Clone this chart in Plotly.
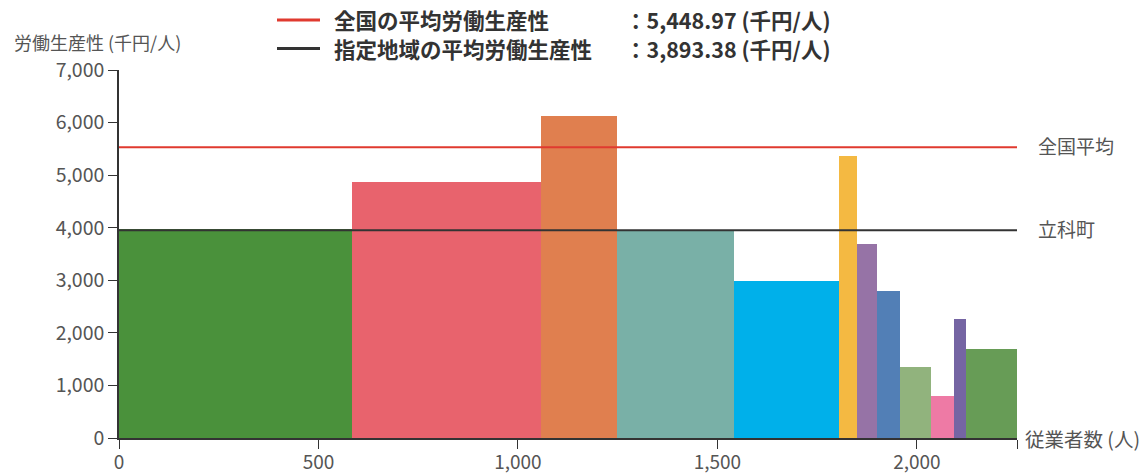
import plotly.graph_objects as go

# data
widths = [584, 474, 190, 293, 264, 45, 50, 57, 78, 58, 30, 128]   # 従業者数 (人)
values = [3980, 4875, 6130, 3940, 2990, 5370, 3696, 2800, 1356, 805, 2269, 1699]  # 労働生産性 (千円/人)
colors = ["#4a913b", "#e8636d", "#e07f4f", "#79b0a7", "#00b0ea", "#f4b942",
          "#9673a6", "#527fb6", "#91b37d", "#ee7aa5", "#7565a3", "#679c56"]
national_avg = 5530
region_avg = 3950
national_label = "全国平均"
region_label = "立科町"
legend_rows = [("全国の平均労働生産性", "：5,448.97 (千円/人)", "#e03a2f"),
               ("指定地域の平均労働生産性", "：3,893.38 (千円/人)", "#333333")]
xticks = [0, 500, 1000, 1500, 2000]
yticks = [0, 1000, 2000, 3000, 4000, 5000, 6000, 7000]

lefts = []
acc = 0
for w in widths:
    lefts.append(acc)
    acc += w
total = acc
centers = [l + w / 2 for l, w in zip(lefts, widths)]

FONT = "Noto Sans CJK JP"
GREY = "#555555"
PW = 898
PH = 368

fig = go.Figure()
fig.add_trace(go.Bar(x=centers, y=values, width=widths, marker=dict(color=colors, line=dict(width=0)),
                     showlegend=False, hoverinfo="y"))
fig.add_trace(go.Scatter(x=[0, total], y=[national_avg, national_avg], mode="lines",
                         line=dict(color="#e03a2f", width=2), showlegend=False))
fig.add_trace(go.Scatter(x=[0, total], y=[region_avg, region_avg], mode="lines",
                         line=dict(color="#333333", width=2), showlegend=False))

fig.update_layout(
    width=1142, height=473,
    margin=dict(l=119, r=125, t=70, b=35, autoexpand=False),
    paper_bgcolor="white", plot_bgcolor="white",
    font=dict(family=FONT, color=GREY, size=17),
    bargap=0,
    xaxis=dict(range=[0, total], tickvals=xticks + [total], ticktext=[f"{v:,}" for v in xticks] + [""],
               showline=True, linecolor="#333333", linewidth=1.5, ticks="outside", ticklen=9,
               tickcolor="#333333", showgrid=False, zeroline=False, fixedrange=True, automargin=False,
               ticklabelstandoff=-3,
               tickfont=dict(size=19, color=GREY)),
    yaxis=dict(range=[0, 7000], tickvals=yticks, ticktext=[f"{v:,}" for v in yticks],
               showline=True, linecolor="#333333", linewidth=1.5, ticks="outside", ticklen=9,
               tickcolor="#333333", showgrid=False, zeroline=False, fixedrange=True, automargin=False,
               tickfont=dict(size=19.5, color=GREY)),
)

# axis titles
fig.add_annotation(text="労働生産性 (千円/人)", xref="paper", yref="paper", x=(12 - 119) / PW, y=1 + 28 / PH,
                   xanchor="left", yanchor="middle", showarrow=False, font=dict(size=18, color=GREY))
fig.add_annotation(text="従業者数 (人)", xref="paper", yref="paper", x=1 + 6 / PW, y=0,
                   xanchor="left", yanchor="middle", showarrow=False, font=dict(size=19.5, color=GREY))

# line labels
fig.add_annotation(text=national_label, xref="paper", yref="y", x=1 + 19 / PW, y=national_avg + 40,
                   xanchor="left", yanchor="middle", showarrow=False, font=dict(size=19, color=GREY))
fig.add_annotation(text=region_label, xref="paper", yref="y", x=1 + 19 / PW, y=region_avg + 40,
                   xanchor="left", yanchor="middle", showarrow=False, font=dict(size=19, color=GREY))

# legend rows
for i, (name, val, col) in enumerate(legend_rows):
    ypix = 20 + i * 28.5
    yp = 1 + (70 - ypix) / PH
    fig.add_shape(type="line", xref="paper", yref="paper",
                  x0=(277 - 119) / PW, x1=(320 - 119) / PW, y0=yp, y1=yp,
                  line=dict(color=col, width=3))
    fig.add_annotation(text=f"<b>{name}</b>", xref="paper", yref="paper", x=(332 - 119) / PW, y=yp,
                       xanchor="left", yanchor="middle", showarrow=False,
                       font=dict(size=21.5, color="#333333"))
    fig.add_annotation(text=f"<b>{val}</b>", xref="paper", yref="paper", x=(623 - 119) / PW, y=yp,
                       xanchor="left", yanchor="middle", showarrow=False,
                       font=dict(size=21.5, color="#333333"))

fig.write_html("out.html")
